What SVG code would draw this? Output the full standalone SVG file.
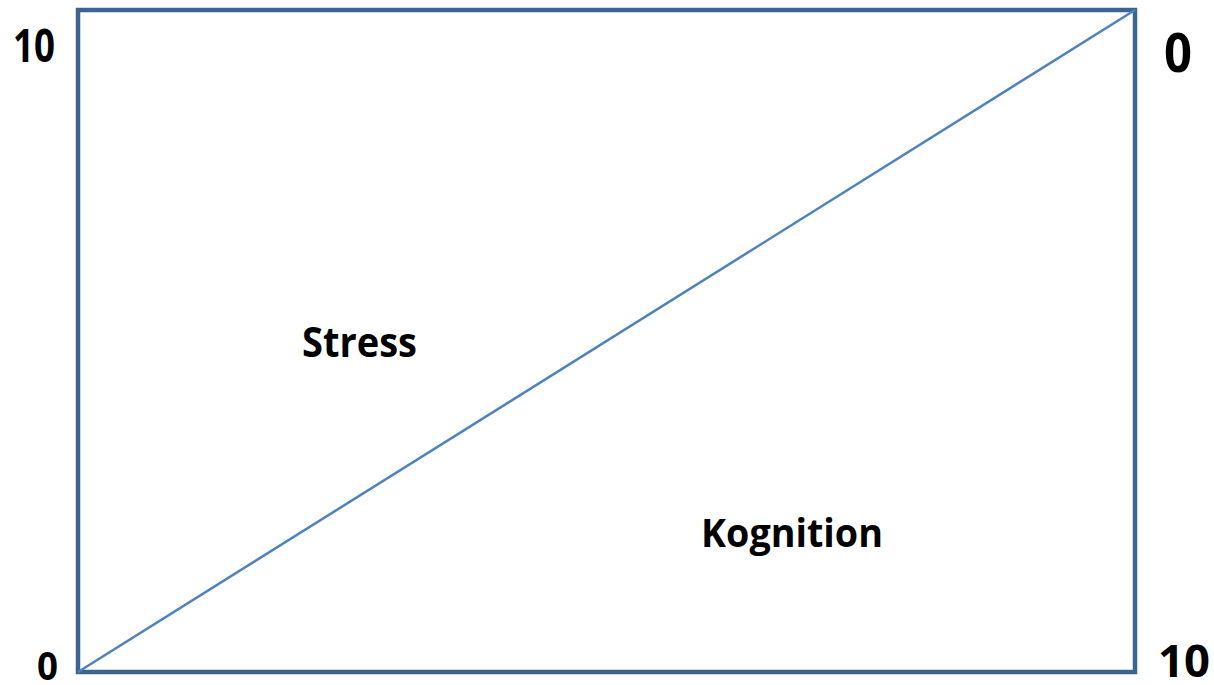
<svg xmlns="http://www.w3.org/2000/svg" width="1214" height="685" viewBox="0 0 1214 685">
<style>
.lbl{font-family:"Open Sans","Liberation Sans",sans-serif;font-weight:bold;fill:#000}
.frame{fill:none;stroke:#3b6495;stroke-width:4.5}
.diag{stroke:#4f81bd;stroke-width:2.5}
</style>
<rect width="1214" height="685" fill="#fff"/>
<g id="frame"><rect class="frame" x="78" y="10" width="1057" height="662"/></g>
<g id="connectors"><line class="diag" x1="78" y1="672" x2="1135" y2="10"/></g>
<g id="labels">
<text class="lbl" x="13" y="62" font-size="46" textLength="42" lengthAdjust="spacingAndGlyphs">10</text>
<text class="lbl" x="1164" y="72" font-size="54" textLength="28" lengthAdjust="spacingAndGlyphs">0</text>
<text class="lbl" x="37" y="680" font-size="40" textLength="21" lengthAdjust="spacingAndGlyphs">0</text>
<text class="lbl" x="1158" y="677" font-size="44" textLength="52" lengthAdjust="spacingAndGlyphs">10</text>
</g>
<g id="stress"><text class="lbl" x="302" y="357" font-size="42" textLength="115" lengthAdjust="spacingAndGlyphs">Stress</text></g>
<g id="kognition"><text class="lbl" x="701" y="547" font-size="40" textLength="182" lengthAdjust="spacingAndGlyphs">Kognition</text></g>
</svg>
